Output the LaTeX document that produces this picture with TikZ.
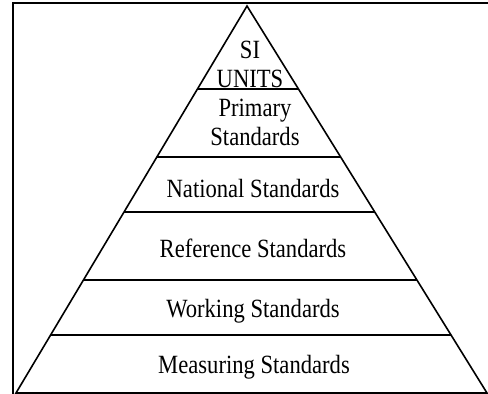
\documentclass[tikz,border=0pt]{standalone}
\usepackage{fontspec}
\setmainfont{Liberation Serif}[FakeStretch=0.86]
\usetikzlibrary{calc}
\tikzset{
  edge/.style={line width=1.6pt, line join=miter},
  lvl/.style={font=\fontsize{26.3}{29}\selectfont, inner sep=0pt, align=center, anchor=base},
}
\begin{document}
\begin{tikzpicture}[x=1pt,y=-1pt]
\useasboundingbox (0,0) rectangle (488,394);
% frame
\coordinate (fbl) at (13,395);
\coordinate (ftl) at (13,3);
\coordinate (ftr) at (490,3);
\draw[line width=1.5pt] (fbl) -- (ftl) -- (ftr);
% pyramid
\coordinate (A) at (247,6);
\coordinate (L) at (16,393);
\coordinate (R) at (487,393);
\draw[edge] (L) -- (A) -- (R) -- cycle;
\foreach \n/\t in {1/0.2145, 2/0.3902, 3/0.5323, 4/0.7080, 5/0.8501}{
  \coordinate (l\n) at ($(A)!\t!(L)$);
  \coordinate (r\n) at ($(A)!\t!(R)$);
  \draw[edge] (l\n) -- (r\n);
}
% labels
\node[lvl] (si) at (250,87) {SI\\UNITS};
\node[lvl] (pri) at (255,145) {Primary\\Standards};
\node[lvl] (nat) at (253,197) {National Standards};
\node[lvl] (ref) at (253,257) {Reference Standards};
\node[lvl] (wor) at (253,317) {Working Standards};
\node[lvl] (mea) at (254,373) {Measuring Standards};
\end{tikzpicture}
\end{document}
